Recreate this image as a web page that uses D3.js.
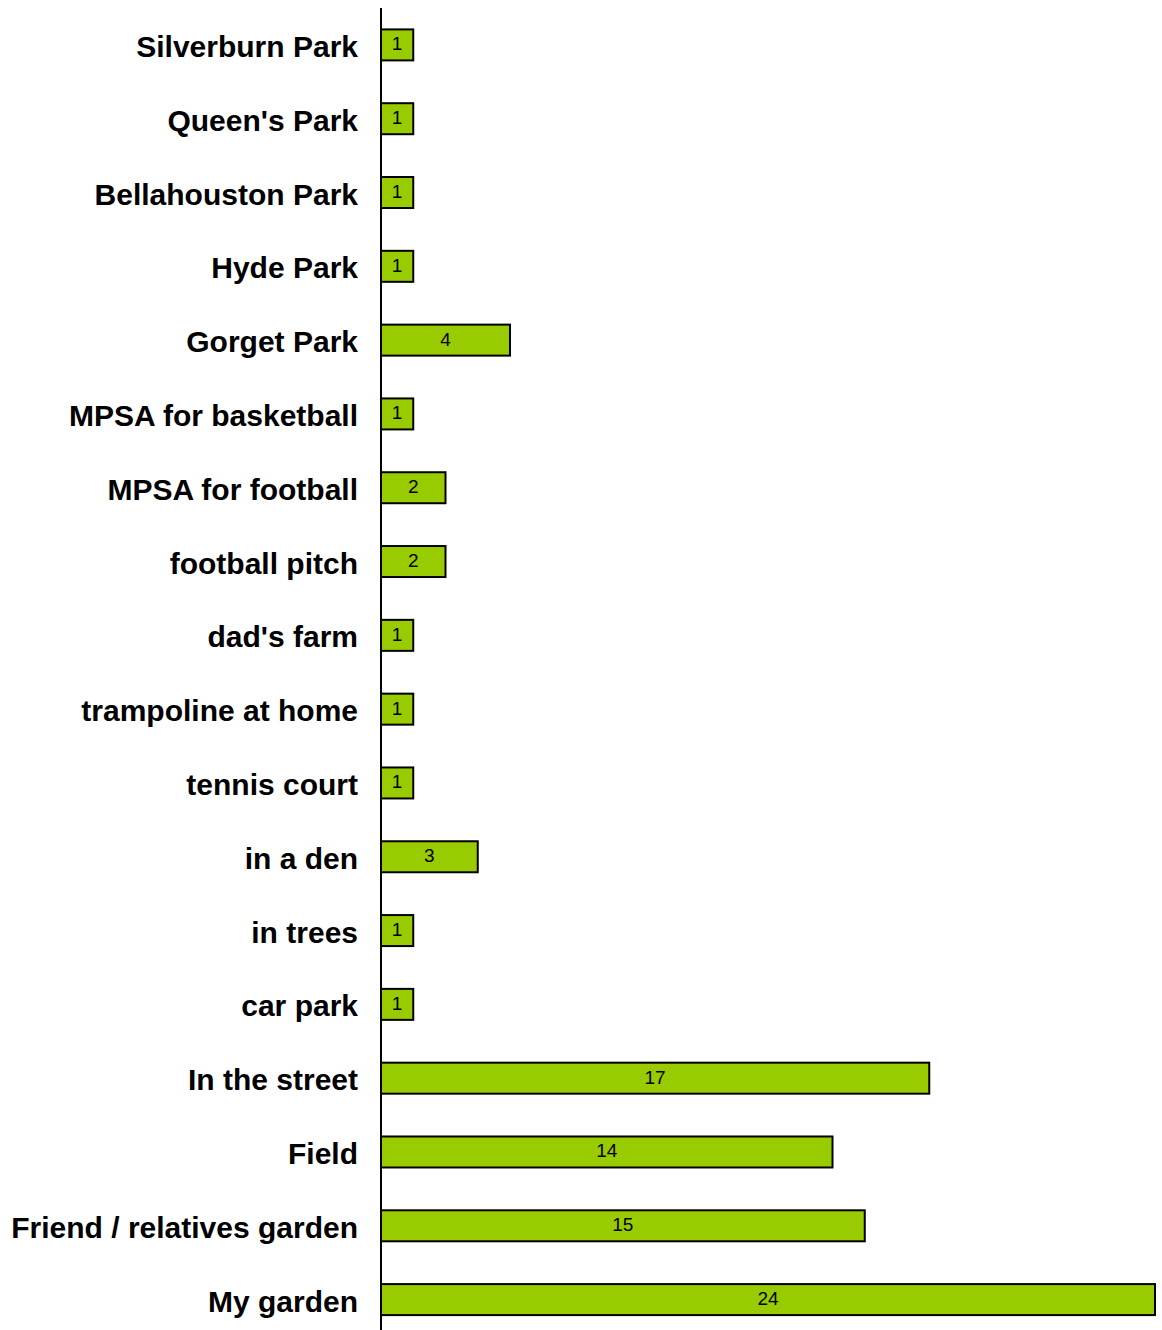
<!DOCTYPE html>
<html><head><meta charset="utf-8">
<script src="https://cdn.jsdelivr.net/npm/d3@7"></script>
<style>body{margin:0;background:#fff}svg{display:block}</style>
</head><body>
<script>
const categories = ["Silverburn Park","Queen's Park","Bellahouston Park","Hyde Park","Gorget Park","MPSA for basketball","MPSA for football","football pitch","dad's farm","trampoline at home","tennis court","in a den","in trees","car park","In the street","Field","Friend / relatives garden","My garden"];
const values = [1,1,1,1,4,1,2,2,1,1,1,3,1,1,17,14,15,24];

const W = 1162, H = 1330;
const svg = d3.select("body").append("svg").attr("width", W).attr("height", H);

const y = d3.scaleBand().domain(categories).range([8, 1336.5]).paddingInner(0.58).paddingOuter(0.29);
const x = d3.scaleLinear().domain([0, 24]).range([381, 1155]);

svg.append("g").selectAll("rect").data(categories).join("rect")
  .attr("x", x(0)).attr("y", d => y(d))
  .attr("width", (d,i) => x(values[i]) - x(0)).attr("height", y.bandwidth())
  .attr("fill", "#99CC00").attr("stroke", "#000").attr("stroke-width", 2);

svg.append("g").selectAll("text").data(categories).join("text")
  .attr("x", (d,i) => (x(0) + x(values[i]))/2).attr("y", d => y(d) + y.bandwidth()/2 - 1)
  .attr("text-anchor", "middle").attr("dominant-baseline", "central")
  .attr("font-family", "Liberation Sans, Arial, sans-serif").attr("font-size", 19)
  .text((d,i) => values[i]);

const axis = d3.axisLeft(y).tickSize(0).tickPadding(23);
const g = svg.append("g").attr("transform", `translate(${x(0)},0)`).call(axis);
g.select(".domain").attr("stroke", "#000").attr("stroke-width", 2).attr("d", "M0,8V1340");
g.selectAll("text").attr("font-family", "Liberation Sans, Arial, sans-serif")
  .attr("font-size", 30).attr("font-weight", "bold").attr("fill", "#000")
  .attr("dy", "0.4em");
</script>
</body></html>
